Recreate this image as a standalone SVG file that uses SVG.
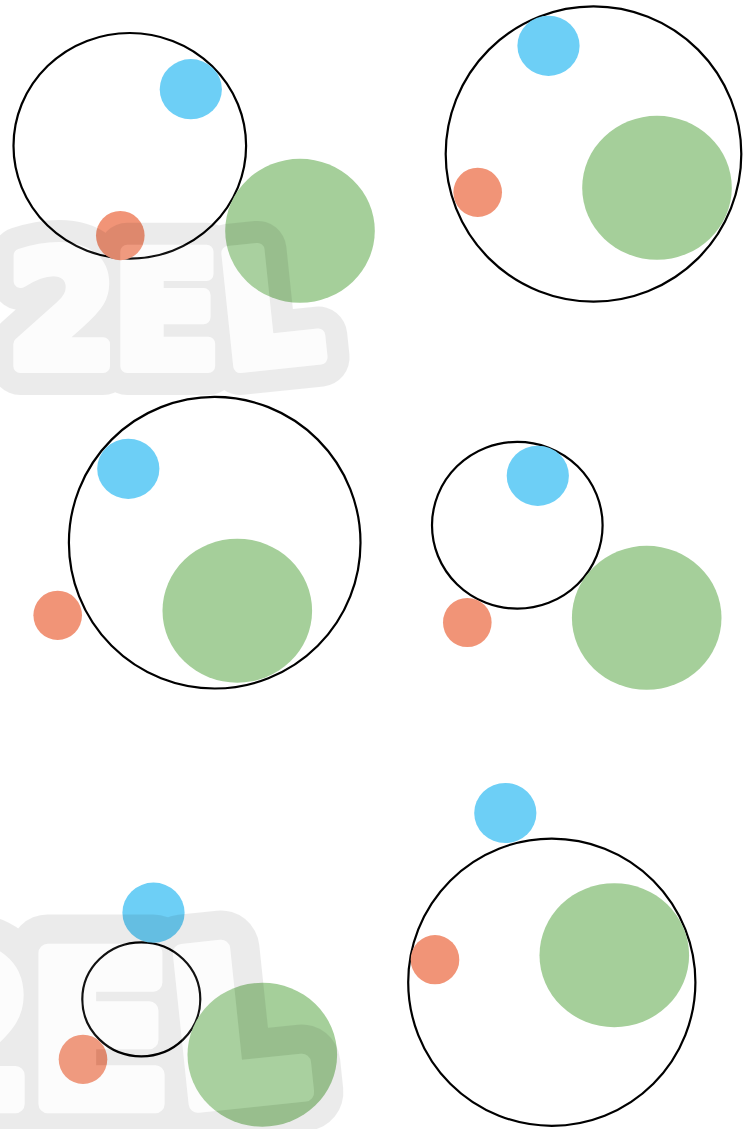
<svg xmlns="http://www.w3.org/2000/svg" xmlns:xlink="http://www.w3.org/1999/xlink" width="752" height="1129" viewBox="0 0 752 1129">
<style>
.ring{fill:none;stroke:#000;stroke-width:2.2}
.blue{fill:#6dcff6}
.orange{fill:#f19477}
.green{fill:#a5cf9a}
.wmtext{font-family:"DejaVu Sans",sans-serif;font-weight:bold;font-size:156px}
.wm-out{fill:#000;stroke:#000;stroke-width:58;stroke-linejoin:round}
.wm-in{fill:#e2e2e2;stroke:#e2e2e2;stroke-width:14;stroke-linejoin:round}
</style>
<defs>
<g id="wmGlyphs" class="wmtext">
<text x="8 113" y="366">2E</text>
<text x="226" y="366" transform="rotate(-6 240 366)">L</text>
</g>
<g id="wmMark" opacity="0.075">
<use xlink:href="#wmGlyphs" class="wm-out"/>
<use xlink:href="#wmGlyphs" class="wm-in"/>
</g>
</defs>
<rect width="752" height="1129" fill="#fff"/>
<g id="panel1">
<ellipse id="p1-ring" class="ring" cx="129.8" cy="145.8" rx="116.3" ry="112.8"/>
<ellipse id="p1-blue" class="blue" cx="190.8" cy="89.2" rx="31.1" ry="30.1"/>
<ellipse id="p1-orange" class="orange" cx="120.3" cy="235.6" rx="24.3" ry="24.6"/>
<ellipse id="p1-green" class="green" cx="300" cy="230.8" rx="74.8" ry="72"/>
</g>
<g id="panel2">
<ellipse id="p2-ring" class="ring" cx="593.5" cy="154" rx="147.8" ry="147.6"/>
<ellipse id="p2-blue" class="blue" cx="548.5" cy="45.8" rx="31.1" ry="30.1"/>
<ellipse id="p2-orange" class="orange" cx="477.7" cy="192.3" rx="24.3" ry="24.6"/>
<ellipse id="p2-green" class="green" cx="657" cy="187.8" rx="74.8" ry="72"/>
</g>
<g id="panel3">
<ellipse id="p3-ring" class="ring" cx="214.7" cy="542.7" rx="145.8" ry="145.8"/>
<ellipse id="p3-blue" class="blue" cx="128.3" cy="468.8" rx="31.1" ry="30.1"/>
<ellipse id="p3-orange" class="orange" cx="57.7" cy="615.3" rx="24.3" ry="24.6"/>
<ellipse id="p3-green" class="green" cx="237.3" cy="610.7" rx="74.8" ry="72"/>
</g>
<g id="panel4">
<ellipse id="p4-ring" class="ring" cx="517.3" cy="525.3" rx="85.3" ry="83.4"/>
<ellipse id="p4-blue" class="blue" cx="537.8" cy="475.8" rx="31.1" ry="30.1"/>
<ellipse id="p4-orange" class="orange" cx="467.3" cy="622.5" rx="24.3" ry="24.6"/>
<ellipse id="p4-green" class="green" cx="646.7" cy="617.8" rx="74.8" ry="72"/>
</g>
<g id="panel5">
<ellipse id="p5-ring" class="ring" cx="141.3" cy="999.3" rx="59" ry="57"/>
<ellipse id="p5-blue" class="blue" cx="153.5" cy="912.7" rx="31.1" ry="30.1"/>
<ellipse id="p5-orange" class="orange" cx="83" cy="1059.3" rx="24.3" ry="24.6"/>
<ellipse id="p5-green" class="green" cx="262.3" cy="1054.7" rx="74.8" ry="72"/>
</g>
<g id="panel6">
<ellipse id="p6-ring" class="ring" cx="551.8" cy="982.2" rx="143.6" ry="143.6"/>
<ellipse id="p6-blue" class="blue" cx="505.3" cy="813" rx="31.1" ry="30.1"/>
<ellipse id="p6-orange" class="orange" cx="435" cy="959.7" rx="24.3" ry="24.6"/>
<ellipse id="p6-green" class="green" cx="614.3" cy="955.2" rx="74.8" ry="72"/>
</g>
<g id="connectors"/>
<g id="watermarks">
<use xlink:href="#wmMark"/>
<use xlink:href="#wmMark" transform="translate(-121.6 616.9) scale(1.33)"/>
</g>
</svg>
